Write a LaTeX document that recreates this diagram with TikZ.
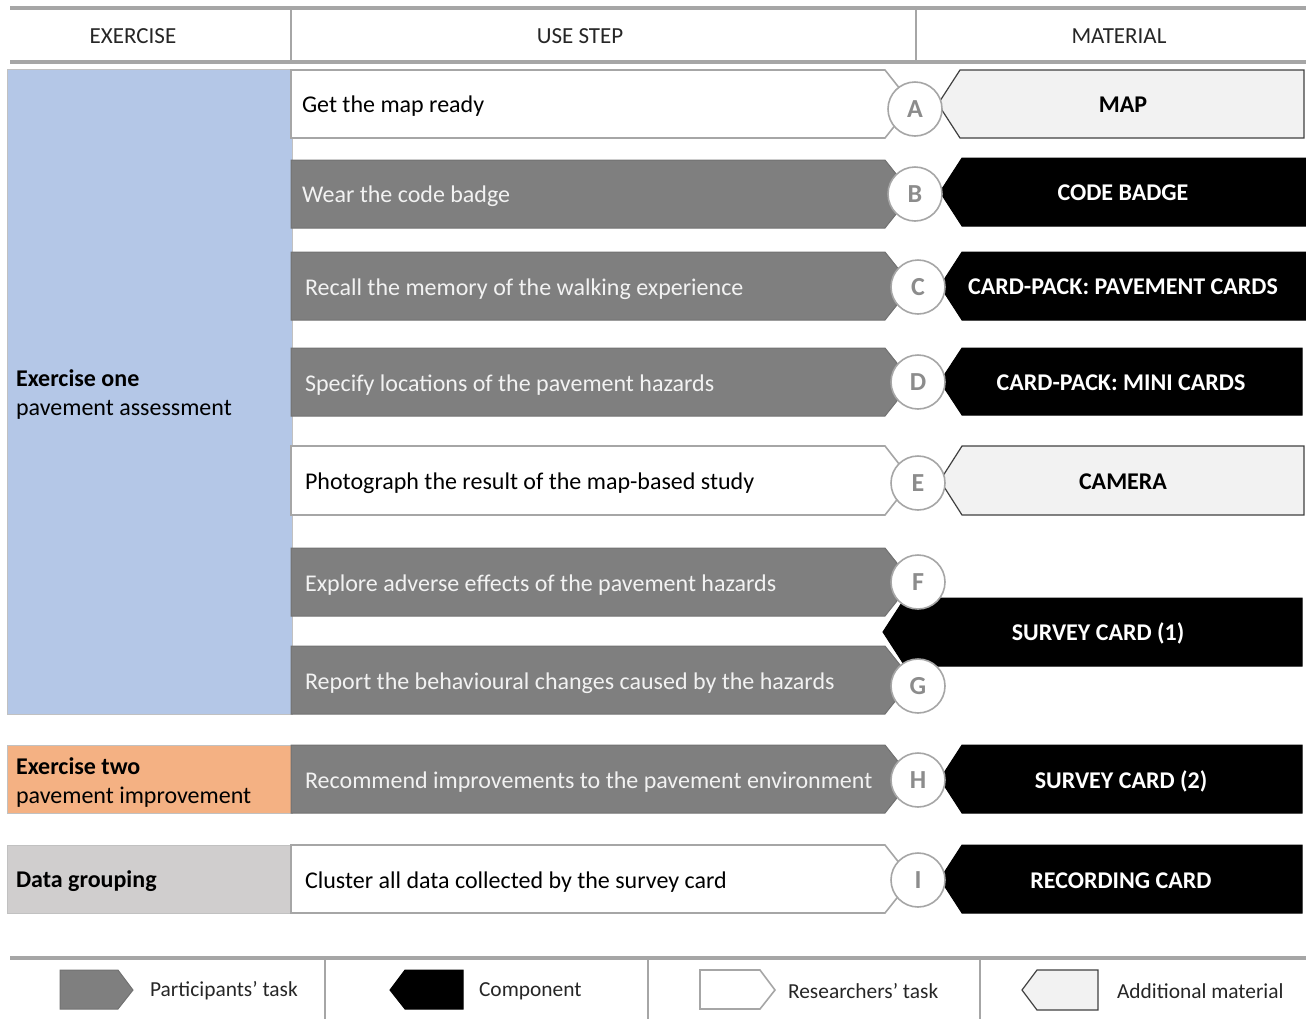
\documentclass[tikz,border=0pt]{standalone}
\usepackage{fontspec}
\setmainfont{Carlito}
\definecolor{stepgray}{HTML}{7F7F7F}
\definecolor{exblue}{HTML}{B4C7E7}
\definecolor{exorange}{HTML}{F4B183}
\definecolor{exgray}{HTML}{D0CECE}
\definecolor{lightmat}{HTML}{F2F2F2}
\definecolor{rulegray}{HTML}{A6A6A6}
\definecolor{lettergray}{HTML}{8C8C8C}
\begin{document}
\begin{tikzpicture}[x=0.5pt,y=-0.5pt,
  participant/.style={fill=stepgray,draw=stepgray!90!black,line width=0.5pt},
  researcher/.style={fill=white,draw=rulegray,line width=0.8pt},
  component/.style={fill=black,draw=black,line width=0.5pt},
  additional/.style={fill=lightmat,draw=black!75,line width=0.6pt},
  bigrule/.style={draw=rulegray,line width=1.6pt},
  smallrule/.style={draw=rulegray,line width=0.8pt},
  hdr/.style={font=\fontsize{11.5}{13}\selectfont,text=black!85},
  steptxt/.style={anchor=west,font=\fontsize{12}{14}\selectfont},
  ptxt/.style={steptxt,text=white!95!black},
  rtxt/.style={steptxt,text=black},
  mattxt/.style={font=\bfseries\fontsize{12}{14}\selectfont},
  ctxt/.style={mattxt,text=white},
  atxt/.style={mattxt,text=black},
  letter/.style={circle,draw=rulegray,fill=white,line width=0.8pt,minimum size=27pt,inner sep=0pt,text=lettergray,font=\bfseries\fontsize{13}{14}\selectfont},
  extxt/.style={anchor=west,align=left,font=\fontsize{12}{14.5}\selectfont,text=black},
  legtxt/.style={anchor=west,font=\fontsize{10.7}{13}\selectfont,text=black!85}
]
\useasboundingbox (0,0) rectangle (1306,1019);

% header
\draw[bigrule] (10,8) -- (1306,8);
\draw[bigrule] (10,62) -- (1306,62);
\draw[smallrule] (291,8) -- (291,62);
\draw[smallrule] (916,8) -- (916,62);
\node[hdr] (hex) at (133,36) {EXERCISE};
\node[hdr] (hus) at (580,36) {USE STEP};
\node[hdr] (hma) at (1119,36) {MATERIAL};

% exercise column
\fill[exblue] (7,69) rectangle (292,714);
\draw[draw=rulegray!70,line width=0.5pt] (7,69) rectangle (292,714);
\node[extxt] (ex1) at (9,395) {\textbf{Exercise one}\\pavement assessment};
\fill[exorange] (7,745) rectangle (292,813);
\draw[draw=rulegray!70,line width=0.5pt] (7,745) rectangle (292,813);
\node[extxt] (ex2) at (9,782) {\textbf{Exercise two}\\pavement improvement};
\fill[exgray] (7,845) rectangle (290,913);
\draw[draw=rulegray!70,line width=0.5pt] (7,845) rectangle (290,913);
\node[extxt] (ex3) at (9,881) {\textbf{Data grouping}};

% step shapes
\newcommand\stepshape[3]{\path[#1] (291,#2) -- (885,#2) -- (912,{(#2+#3)/2}) -- (885,#3) -- (291,#3) -- cycle;}
\stepshape{researcher}{70}{138}
\stepshape{participant}{160}{228}
\stepshape{participant}{252}{320}
\stepshape{participant}{348}{416}
\stepshape{researcher}{446}{515}
\stepshape{participant}{548}{616}
\stepshape{participant}{646}{714}
\stepshape{participant}{745}{813}
\stepshape{researcher}{845}{913}

\node[rtxt] (sA) at (295,106) {Get the map ready};
\node[ptxt] (sB) at (295,196) {Wear the code badge};
\node[ptxt] (sC) at (298,289) {Recall the memory of the walking experience};
\node[ptxt] (sD) at (298,385) {Specify locations of the pavement hazards};
\node[rtxt] (sE) at (298,483) {Photograph the result of the map-based study};
\node[ptxt] (sF) at (298,585) {Explore adverse effects of the pavement hazards};
\node[ptxt] (sG) at (298,683) {Report the behavioural changes caused by the hazards};
\node[ptxt] (sH) at (298,782) {Recommend improvements to the pavement environment};
\node[rtxt] (sI) at (298,882) {Cluster all data collected by the survey card};

% material shapes
\newcommand\matshape[5]{\path[#1] (#4,#2) -- (#5,#2) -- (#5,#3) -- (#4,#3) -- ({#4-22},{(#2+#3)/2}) -- cycle;}
\matshape{additional}{70}{138}{960}{1304}
\matshape{component}{158}{226}{962}{1306}
\matshape{component}{252}{320}{962}{1306}
\matshape{component}{348}{415}{962}{1302}
\matshape{additional}{446}{515}{962}{1304}
\matshape{component}{598}{666}{905}{1302}
\matshape{component}{745}{813}{962}{1302}
\matshape{component}{845}{913}{962}{1302}

\node[atxt] (mA) at (1123,105) {MAP};
\node[ctxt] (mB) at (1123,193) {CODE BADGE};
\node[ctxt] (mC) at (1123,287) {CARD-PACK: PAVEMENT CARDS};
\node[ctxt] (mD) at (1121,383) {CARD-PACK: MINI CARDS};
\node[atxt] (mE) at (1123,482) {CAMERA};
\node[ctxt] (mF) at (1098,633) {SURVEY CARD (1)};
\node[ctxt] (mH) at (1121,781) {SURVEY CARD (2)};
\node[ctxt] (mI) at (1121,881) {RECORDING CARD};

% letter circles
\node[letter] (cA) at (915,109) {A};
\node[letter] (cB) at (915,194) {B};
\node[letter] (cC) at (918,287) {C};
\node[letter] (cD) at (918,382) {D};
\node[letter] (cE) at (918,483) {E};
\node[letter] (cF) at (918,582) {F};
\node[letter] (cG) at (918,686) {G};
\node[letter] (cH) at (918,780) {H};
\node[letter] (cI) at (918,880) {I};

% legend
\draw[bigrule] (10,958) -- (1306,958);
\draw[smallrule] (325,959) -- (325,1019);
\draw[smallrule] (648,959) -- (648,1019);
\draw[smallrule] (980,959) -- (980,1019);
\path[participant] (60,970) -- (118,970) -- (133,990) -- (118,1009) -- (60,1009) -- cycle;
\node[legtxt] (l1) at (143,991) {Participants’ task};
\path[component] (405,970) -- (463,970) -- (463,1009) -- (405,1009) -- (390,990) -- cycle;
\node[legtxt] (l2) at (472,991) {Component};
\path[researcher] (700,970) -- (760,970) -- (775,990) -- (760,1009) -- (700,1009) -- cycle;
\node[legtxt] (l3) at (781,991) {Researchers’ task};
\path[additional] (1037,970) -- (1098,970) -- (1098,1010) -- (1037,1010) -- (1022,990) -- cycle;
\node[legtxt] (l4) at (1110,991) {Additional material};
\end{tikzpicture}
\end{document}
